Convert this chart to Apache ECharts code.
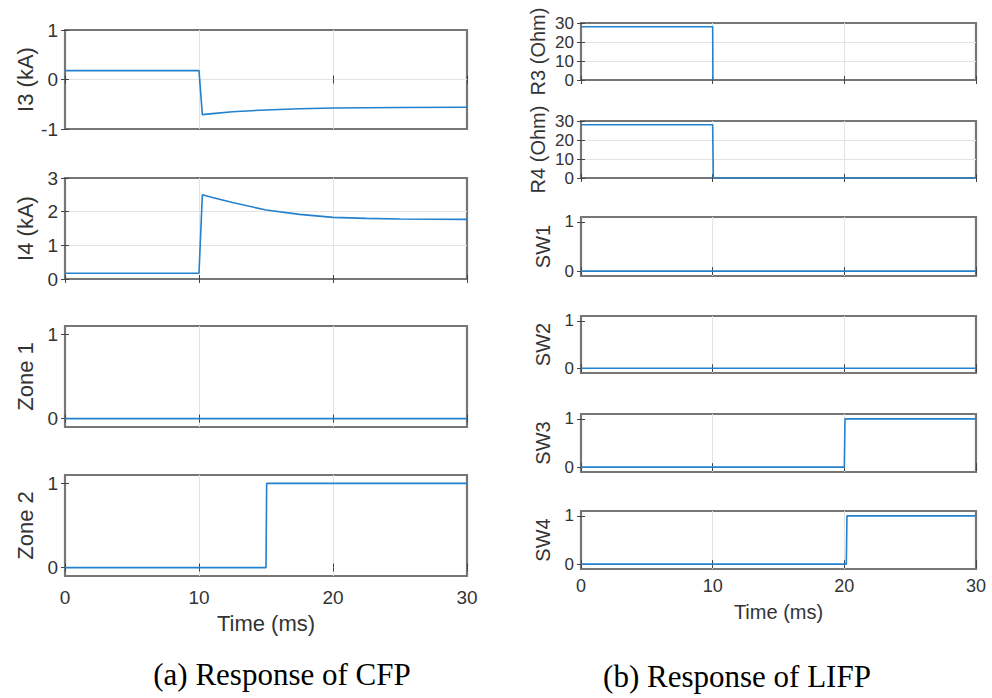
<!DOCTYPE html>
<html><head><meta charset="utf-8">
<script src="https://cdn.jsdelivr.net/npm/echarts@6/dist/echarts.min.js"></script>
<style>html,body{margin:0;padding:0;background:#fff;overflow:hidden}#c{width:992px;height:698px}</style>
</head><body><div id="c"></div>
<script>
// ---- data ----
const xTickValues = [0, 10, 20, 30];
const tI3 = [0, 10, 10.25, 11, 12.5, 15, 17.5, 20, 25, 30];
const vI3 = [0.18, 0.18, -0.71, -0.69, -0.65, -0.615, -0.59, -0.575, -0.565, -0.56];
const tI4 = [0, 10, 10.25, 11, 12.5, 15, 17.5, 20, 22.5, 25, 30];
const vI4 = [0.17, 0.17, 2.5, 2.42, 2.27, 2.05, 1.92, 1.83, 1.8, 1.78, 1.77];
const tZone1 = [0, 30];
const vZone1 = [0, 0];
const tZone2 = [0, 15, 15.05, 30];
const vZone2 = [0, 0, 1, 1];
const tR3 = [0, 10, 10.02];
const vR3 = [28, 28, 0];
const tR4 = [0, 10, 10.05, 30];
const vR4 = [28, 28, 0, 0];
const tSW1 = [0, 30];
const vSW1 = [0, 0];
const tSW2 = [0, 30];
const vSW2 = [0, 0];
const tSW3 = [0, 20, 20.05, 30];
const vSW3 = [0, 0, 1, 1];
const tSW4 = [0, 20.15, 20.2, 30];
const vSW4 = [0, 0, 1, 1];
const ticksCurrentI3 = [-1, 0, 1];
const ticksCurrentI4 = [0, 1, 2, 3];
const ticksBinary = [0, 1];
const ticksOhm = [0, 10, 20, 30];
const captions = ['(a) Response of CFP', '(b) Response of LIFP'];
const xName = 'Time (ms)';

// ---- layout ----
const FONT = 'Liberation Sans, Arial, Helvetica, sans-serif';
const LINE = '#2381cd';
const panels = [
  {name:'I3 (kA)', t:tI3, v:vI3, ticks:ticksCurrentI3, min:-1, max:1, col:0, top:30, h:99},
  {name:'I4 (kA)', t:tI4, v:vI4, ticks:ticksCurrentI4, min:0, max:3, col:0, top:178, h:101},
  {name:'Zone 1', t:tZone1, v:vZone1, ticks:ticksBinary, min:-0.1, max:1.1, col:0, top:326, h:101},
  {name:'Zone 2', t:tZone2, v:vZone2, ticks:ticksBinary, min:-0.1, max:1.1, col:0, top:475, h:101, bottom:true},
  {name:'R3 (Ohm)', t:tR3, v:vR3, ticks:ticksOhm, min:0, max:30, col:1, top:23, h:57},
  {name:'R4 (Ohm)', t:tR4, v:vR4, ticks:ticksOhm, min:0, max:30, col:1, top:121, h:57},
  {name:'SW1', t:tSW1, v:vSW1, ticks:ticksBinary, min:-0.1, max:1.1, col:1, top:217, h:59},
  {name:'SW2', t:tSW2, v:vSW2, ticks:ticksBinary, min:-0.1, max:1.1, col:1, top:316, h:57},
  {name:'SW3', t:tSW3, v:vSW3, ticks:ticksBinary, min:-0.1, max:1.1, col:1, top:414, h:58},
  {name:'SW4', t:tSW4, v:vSW4, ticks:ticksBinary, min:-0.1, max:1.1, col:1, top:511, h:58, bottom:true}
];
const cols = [
  {left:65, width:402, yFont:19, xFont:19, nameFont:22, xNameFont:22, xLabelMargin:12, xNameGap:36},
  {left:581, width:395, yFont:17, xFont:18, nameFont:20, xNameFont:20, xLabelMargin:8, xNameGap:33}
];

const grid = [], xAxis = [], yAxis = [], series = [];
panels.forEach((p, i) => {
  const c = cols[p.col];
  grid.push({left:c.left, top:p.top, width:c.width, height:p.h, show:true,
    borderColor:'#767676', borderWidth:2.2, backgroundColor:'#fff', containLabel:false});
  const tick = {show:true, inside:true, length:4, lineStyle:{color:'#444', width:1}};
  const split = {show:true, showMinLine:false, showMaxLine:false, lineStyle:{color:'#e3e3e3', width:1}};
  xAxis.push({gridIndex:i, type:'value', min:0, max:30, interval:10, position:'bottom',
    axisLine:{show:false}, axisTick:Object.assign({}, tick, {customValues:xTickValues}),
    splitLine:split,
    axisLabel:{show:!!p.bottom, customValues:xTickValues, margin:c.xLabelMargin, color:'#333', fontFamily:FONT, fontSize:c.xFont},
    name:p.bottom ? xName : '', nameLocation:'middle', nameGap:c.xNameGap,
    nameTextStyle:{color:'#333', fontFamily:FONT, fontSize:c.xNameFont}});
  xAxis.push({gridIndex:i, type:'value', min:0, max:30, interval:10, position:'top',
    axisLine:{show:false}, axisTick:Object.assign({}, tick, {customValues:xTickValues}),
    splitLine:{show:false}, axisLabel:{show:false}});
  const nameGap = p.col === 0 ? 29 : (p.name.charAt(0) === 'R' ? 33 : 28);
  yAxis.push({gridIndex:i, type:'value', min:p.min, max:p.max, position:'left',
    axisLine:{show:false}, axisTick:Object.assign({}, tick, {customValues:p.ticks}),
    splitLine:split,
    axisLabel:{customValues:p.ticks, margin:7, color:'#333', fontFamily:FONT, fontSize:c.yFont,
      formatter:(v)=> (v < 0 ? '-' + Math.abs(v) : String(v))},
    name:p.name, nameLocation:'middle', nameGap:nameGap,
    nameTextStyle:{color:'#333', fontFamily:FONT, fontSize:c.nameFont}});
  yAxis.push({gridIndex:i, type:'value', min:p.min, max:p.max, position:'right',
    axisLine:{show:false}, axisTick:Object.assign({}, tick, {customValues:p.ticks}),
    splitLine:{show:false}, axisLabel:{show:false}});
  series.push({type:'line', xAxisIndex:2*i, yAxisIndex:2*i, showSymbol:false, symbol:'none',
    data:p.t.map((t, k) => [t, p.v[k]]), lineStyle:{color:LINE, width:1.6}, animation:false, z:5});
});

const chart = echarts.init(document.getElementById('c'), null, {renderer:'svg'});
chart.setOption({
  animation:false,
  backgroundColor:'#fff',
  grid, xAxis, yAxis, series,
  graphic:[
    {type:'text', x:282, y:674, style:{text:captions[0], font:'31px "Liberation Serif", "Times New Roman", serif', fill:'#000', textAlign:'center', textVerticalAlign:'middle'}},
    {type:'text', x:737, y:676, style:{text:captions[1], font:'31px "Liberation Serif", "Times New Roman", serif', fill:'#000', textAlign:'center', textVerticalAlign:'middle'}}
  ]
});
</script></body></html>
